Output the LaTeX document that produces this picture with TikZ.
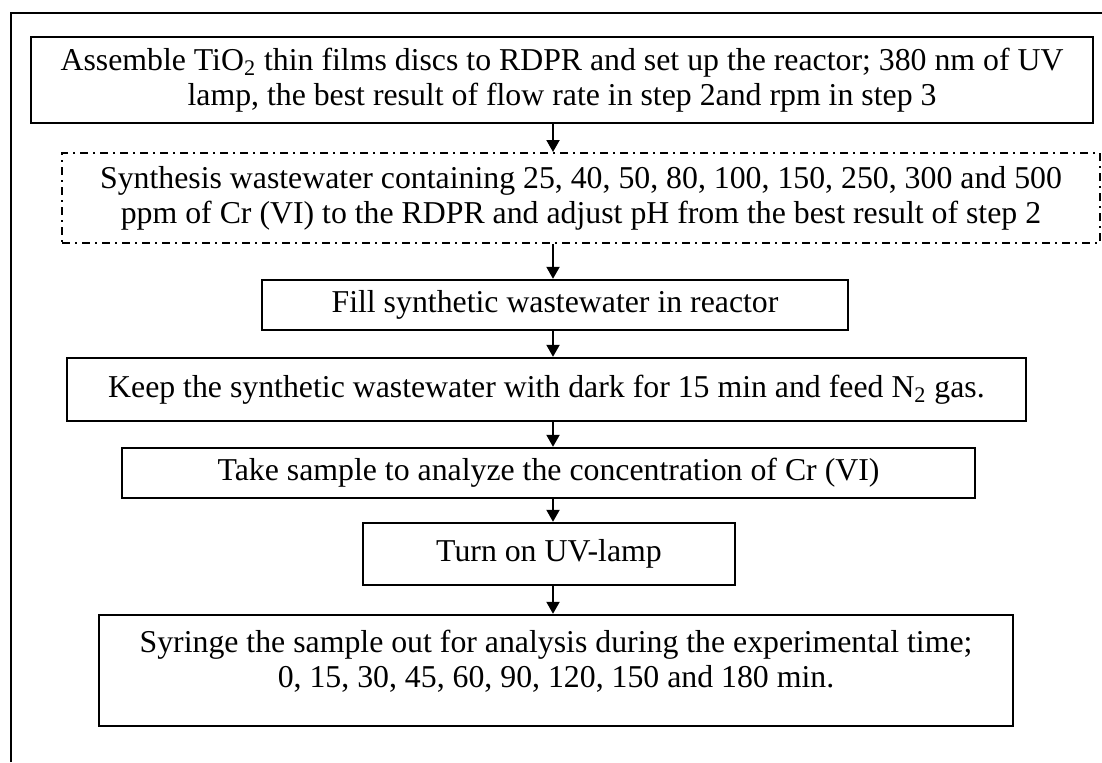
\documentclass[tikz,border=0pt]{standalone}
\usepackage{fontspec}
\setmainfont{Liberation Serif}
\usepackage{tikz}
\usetikzlibrary{arrows.meta}

\tikzset{
  stepbox/.style={draw, line width=1.2pt, align=center, inner sep=0pt,
                  font=\fontsize{15.9}{17.5}\selectfont},
  dashbox/.style={stepbox, dash pattern=on 4pt off 2.5pt on 1pt off 2.5pt, line width=1pt},
  flow/.style={line width=1pt, -{Triangle[length=6pt, width=6.5pt]}}
}

\begin{document}
\begin{tikzpicture}[x=0.5pt, y=-0.5pt]

  \useasboundingbox (0, 0) rectangle (1102, 762);

  % frame
  \draw[line width=1.2pt] (11, 762) -- (11, 13) -- (1102, 13);

  \coordinate (spine) at (553, 0);

  \node[stepbox, minimum width=531pt, minimum height=43pt] (assemble) at (562, 80)
    {Assemble TiO\textsubscript{2} thin films discs to RDPR and set up the reactor; 380 nm of UV\\
     lamp, the best result of flow rate in step 2and rpm in step 3};

  \node[dashbox, minimum width=519pt, minimum height=45pt] (synthesis) at (581, 198)
    {Synthesis wastewater containing 25, 40, 50, 80, 100, 150, 250, 300 and 500\\
     ppm of Cr (VI) to the RDPR and adjust pH from the best result of step 2};

  \node[stepbox, minimum width=293pt, minimum height=25pt] (fill) at (555, 305)
    {Fill synthetic wastewater in reactor};

  \node[stepbox, minimum width=479.5pt, minimum height=31.5pt] (dark) at (546.5, 389.5)
    {Keep the synthetic wastewater with dark for 15 min and feed N\textsubscript{2} gas.};

  \node[stepbox, minimum width=426.5pt, minimum height=25pt] (sample) at (548.5, 473)
    {Take sample to analyze the concentration of Cr (VI)};

  \node[stepbox, minimum width=186pt, minimum height=31pt] (lamp) at (549, 554)
    {Turn on UV-lamp};

  \node[stepbox, minimum width=457pt, minimum height=55.5pt] (syringe) at (556, 670.5)
    {Syringe the sample out for analysis during the experimental time;\\
     0, 15, 30, 45, 60, 90, 120, 150 and 180 min.\\[-5.5pt]\mbox{}};

  \foreach \a/\b in {assemble/synthesis, synthesis/fill, fill/dark, dark/sample,
                     sample/lamp, lamp/syringe} {
    \draw[flow] (\a.south -| spine) -- (\b.north -| spine);
  }

\end{tikzpicture}
\end{document}
